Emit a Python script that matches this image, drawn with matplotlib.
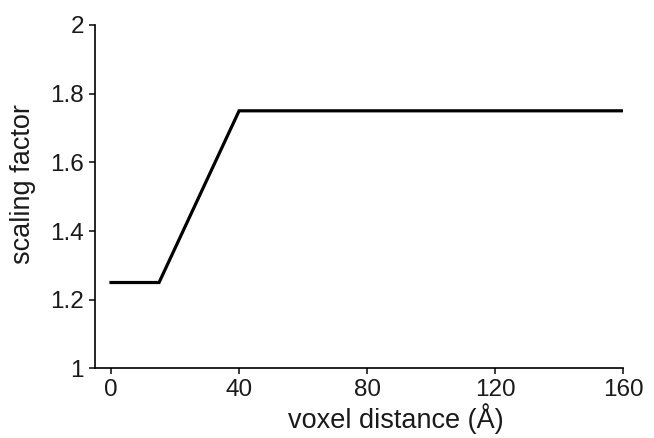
import matplotlib
matplotlib.use("Agg")
import matplotlib.pyplot as plt

plt.rcParams['font.family'] = ['Liberation Sans', 'DejaVu Sans']

# ============ DATA ============
distance = [0, 15, 40, 160]
scaling = [1.25, 1.25, 1.75, 1.75]
x_ticks = [0, 40, 80, 120, 160]
y_ticks = [1, 1.2, 1.4, 1.6, 1.8, 2]
y_tick_labels = ['1', '1.2', '1.4', '1.6', '1.8', '2']

# ============ PLOT ============
fig = plt.figure(figsize=(6.54, 4.38), dpi=100)
ax = fig.add_axes([0.1453, 0.159, 0.953 - 0.1453, 0.943 - 0.159])

ax.plot(distance, scaling, color='black', linewidth=2.3, solid_joinstyle='miter')

ax.set_xlim(-5, 160)
ax.set_ylim(1, 2)
ax.set_xticks(x_ticks)
ax.set_yticks(y_ticks)
ax.set_yticklabels(y_tick_labels)

ax.spines['top'].set_visible(False)
ax.spines['right'].set_visible(False)
for s in ['left', 'bottom']:
    ax.spines[s].set_linewidth(1.2)
ax.tick_params(direction='out', length=4, width=1.2, labelsize=17.5, colors='#1a1a1a', pad=4)

ax.set_xlabel('voxel distance (Å)', fontsize=19.5, color='#1a1a1a')
ax.set_ylabel('scaling factor', fontsize=19.5, color='#1a1a1a')
ax.xaxis.set_label_coords(0.570, -0.102)
ax.yaxis.set_label_coords(-0.111, 0.536)

fig.savefig('out.png', dpi=100)
